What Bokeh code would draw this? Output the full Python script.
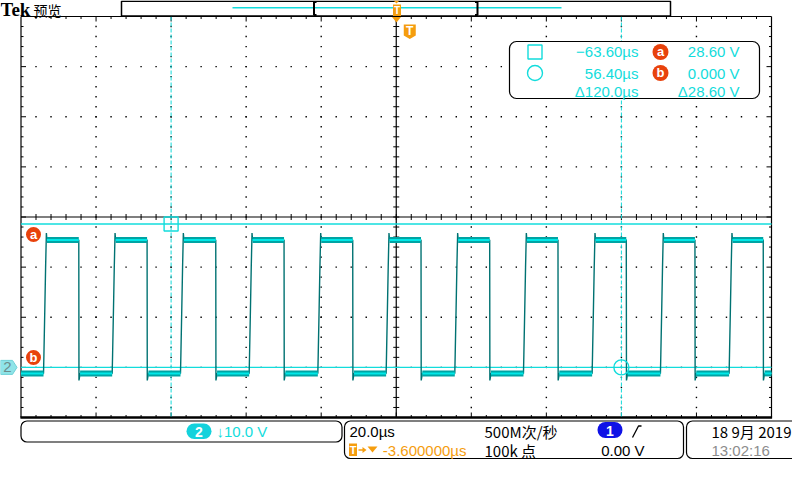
import numpy as np
from bokeh.plotting import figure
from bokeh.models import Range1d
from bokeh.core.properties import value
from bokeh.embed import file_html
from bokeh.resources import INLINE

rise_us = [-97.6, -79.3, -61.1, -42.8, -24.5, -6.3, 12.0, 30.3, 48.6, 66.8, 85.1]
fall_us = [-88.2, -70.0, -51.7, -33.5, -15.2, 3.0, 21.3, 39.5, 57.7, 76.0, 94.2]
high_v = 25.4
low_v = -1.2
overshoot_v = 26.8
undershoot_v = -2.6
rise_shape_frac = [0.0, 0.12, 0.38, 0.62, 0.85, 1.0]   # fraction of rise time
rise_shape_v = [low_v, 2.5, 11.5, 20.0, overshoot_v, high_v]
rise_time_us = 0.9
fall_settle_us = 0.35

cursor_t = [-63.60, 56.40]      # a (square), b (circle)
cursor_v = [28.60, 0.000]       # a, b
us_per_div = 20.0
v_per_div = 10.0
h_delay_us = -3.6
ch2_offset_div = -3
trig_level_v = 0.00
sample_rate_text = "500M次/秒"
record_text = "100k 点"
date_text = "18 9月 2019"
clock_text = "13:02:16"

# ---------------- screen geometry (pixels of the 800x480 screen) ----------------
W, H = 792, 472
GL, GR, GT, GB = 20.5, 771.0, 16.0, 417.0
DX = (GR - GL) / 10.0
DY = (GB - GT) / 8.0
CX = (GL + GR) / 2.0
CY = (GT + GB) / 2.0
GND = CY - ch2_offset_div * DY


def t_of(px):
    return h_delay_us + (px - CX) / DX * us_per_div


def v_of(py):
    return (GND - py) / DY * v_per_div


p = figure(width=W, height=H, x_range=Range1d(0, W), y_range=Range1d(H, 0),
           output_backend="svg", toolbar_location=None,
           x_axis_location=None, y_axis_location=None, min_border=0,
           outline_line_color=None, background_fill_color="white",
           border_fill_color="white")
p.grid.visible = False
p.extra_x_ranges = {"t": Range1d(t_of(0), t_of(W))}
p.extra_y_ranges = {"v": Range1d(v_of(H), v_of(0))}

CYAN = "#12dcdc"
TEAL = "#007272"
BAND = "#00a4a4"
CORE = "#00e8e8"
ORANGE = "#f59d0e"
RED = "#e8420c"
FONT = "Liberation Sans"
CJK = "Noto Sans CJK SC"


def txt(x, y, s, color="black", size=14, font=FONT, align="left", bold=False):
    p.text(x=[x], y=[y], text=[s], text_color=color, text_font=value(font),
           text_font_size=value(f"{size}px"), text_align=align,
           text_baseline="middle", text_font_style="bold" if bold else "normal")


# ---------------- graticule ----------------
dots_x, dots_y = [], []
for k in range(1, 10):
    if k == 5:
        continue
    for j in range(1, 40):
        dots_x.append(GL + k * DX)
        dots_y.append(GT + j * DY / 5)
for k in range(1, 8):
    if k == 4:
        continue
    for j in range(1, 50):
        dots_x.append(GL + j * DX / 5)
        dots_y.append(GT + k * DY)
p.rect(x=dots_x, y=dots_y, width=1.4, height=1.4, width_units="screen",
       height_units="screen", fill_color="black", line_color=None)

sx0, sy0, sx1, sy1 = [], [], [], []
for j in range(1, 50):
    x = GL + j * DX / 5
    L = 5 if j % 5 == 0 else 2.5
    sx0 += [x, x, x]; sx1 += [x, x, x]
    sy0 += [GT, GB, CY - 3]; sy1 += [GT + L, GB - L, CY + 3]
for j in range(1, 40):
    y = GT + j * DY / 5
    L = 5 if j % 5 == 0 else 2.5
    sy0 += [y, y, y]; sy1 += [y, y, y]
    sx0 += [GL, GR, CX - 3]; sx1 += [GL + L, GR - L, CX + 3]
p.segment(x0=sx0, y0=sy0, x1=sx1, y1=sy1, line_color="black", line_width=1)

# centre cross
p.segment(x0=[GL, CX], y0=[CY, GT], x1=[GR, CX], y1=[CY, GB], line_color="black", line_width=1.2)
# border
p.segment(x0=[GL, GL, GR], y0=[GT, GT, GT], x1=[GR, GL, GR], y1=[GT, GB, GB],
          line_color="black", line_width=1.2)
p.segment(x0=[GL - 0.6], y0=[GB], x1=[GR + 0.6], y1=[GB], line_color="black", line_width=2.5)

# ---------------- cursors ----------------
p.segment(x0=cursor_t, x1=cursor_t, y0=[GT] * 2, y1=[GB] * 2, x_range_name="t",
          line_color=CYAN, line_width=1, line_dash="4 2")
p.segment(x0=[GL] * 2, x1=[GR] * 2, y0=cursor_v, y1=cursor_v, y_range_name="v",
          line_color=CYAN, line_width=1.4)

# ---------------- waveform ----------------
t_left, t_right = t_of(GL), t_of(GR)
xs, ys = [t_left], [low_v]
hi_seg, lo_seg = [], []
prev_low_start = t_left
for tr, tf in zip(rise_us, fall_us):
    lo_seg.append((prev_low_start, tr))
    for f, v in zip(rise_shape_frac, rise_shape_v):
        xs.append(tr + f * rise_time_us)
        ys.append(v)
    hi_seg.append((tr + rise_time_us, tf))
    xs += [tf, tf + 0.05, tf + fall_settle_us]
    ys += [high_v, undershoot_v, low_v]
    prev_low_start = tf + fall_settle_us
lo_seg.append((prev_low_start, t_right))
xs.append(t_right); ys.append(low_v)
p.line(xs, ys, x_range_name="t", y_range_name="v", line_color=TEAL, line_width=1.4)

bx0 = [a for a, b in hi_seg] + [a for a, b in lo_seg]
bx1 = [b for a, b in hi_seg] + [b for a, b in lo_seg]
by = [high_v] * len(hi_seg) + [low_v] * len(lo_seg)
p.segment(x0=bx0, x1=bx1, y0=by, y1=by, x_range_name="t", y_range_name="v",
          line_color=BAND, line_width=6)
p.segment(x0=bx0, x1=bx1, y0=by, y1=by, x_range_name="t", y_range_name="v",
          line_color=CORE, line_width=2)

# cursor markers
p.scatter(x=[cursor_t[0]], y=[cursor_v[0]], marker="square", size=14, fill_color=None,
          line_color=CYAN, line_width=1.4, x_range_name="t", y_range_name="v")
p.scatter(x=[cursor_t[1]], y=[cursor_v[1]], marker="circle", size=15, fill_color=None,
          line_color=CYAN, line_width=1.4, x_range_name="t", y_range_name="v")

# ---------------- left side markers ----------------
p.scatter(x=[33, 33], y=[234, 357], marker="circle", size=15, fill_color=RED, line_color=None)
txt(33, 233.5, "a", color="white", size=13, align="center", bold=True)
txt(33, 356.5, "b", color="white", size=13, align="center", bold=True)
p.patch(x=[0, 12, 16.5, 12, 0], y=[GND - 7, GND - 7, GND, GND + 7, GND + 7],
        fill_color="#8fe4e8", line_color="#6fd0d6")
txt(7, GND, "2", color="#6c8c8c", size=15, align="center")

# ---------------- header ----------------
txt(0, 9, "Tek", size=19, font="Liberation Serif", bold=True)
txt(33, 9.5, "预览", size=14, font=CJK)
p.quad(left=[121], right=[670], top=[0.8], bottom=[15.4], fill_color="white",
       line_color="black", line_width=1.5)
p.segment(x0=[232], x1=[561], y0=[7.3], y1=[7.3], line_color=CYAN, line_width=1.5)
# view brackets
p.multi_line(xs=[[316, 313.5, 313.5, 316], [474.5, 477, 477, 474.5]],
             ys=[[1.5, 1.5, 14.5, 14.5], [1.5, 1.5, 14.5, 14.5]],
             line_color="black", line_width=2)
# expansion/trigger marker at top
p.patch(x=[393, 399, 396], y=[0, 0, 3], fill_color=ORANGE, line_color=None)
p.quad(left=[392.5], right=[400.5], top=[4], bottom=[15.5], fill_color=ORANGE, line_color=None)
txt(396.5, 10, "T", color="white", size=10, align="center", bold=True)
p.patch(x=[391.5, 400.5, 396], y=[16.5, 16.5, 22], fill_color=ORANGE, line_color=None)
# trigger position marker
trig_px = CX + (0 - h_delay_us) / us_per_div * DX
p.patch(x=[trig_px - 6, trig_px + 6, trig_px + 6, trig_px, trig_px - 6],
        y=[24, 24, 35, 38.5, 35], fill_color=ORANGE, line_color=None)
txt(trig_px, 30.5, "T", color="white", size=12, align="center", bold=True)

# ---------------- cursor readout ----------------
p.quad(left=[509], right=[759], top=[41], bottom=[98], fill_color="white",
       line_color="black", line_width=1.2, border_radius=7)
p.scatter(x=[534.5], y=[51.5], marker="square", size=14, fill_color=None,
          line_color=CYAN, line_width=1.4)
p.scatter(x=[534.5], y=[72.5], marker="circle", size=15, fill_color=None,
          line_color=CYAN, line_width=1.4)
p.scatter(x=[660, 660], y=[51.5, 72.5], marker="circle", size=16, fill_color=RED, line_color=None)
txt(660, 51, "a", color="white", size=13, align="center", bold=True)
txt(660, 72, "b", color="white", size=13, align="center", bold=True)


def fmt_t(t):
    return f"{t:.2f}µs".replace("-", "−")


txt(638, 51, fmt_t(cursor_t[0]), color=CYAN, size=15, align="right")
txt(638, 72.5, fmt_t(cursor_t[1]), color=CYAN, size=15, align="right")
txt(638, 91, f"Δ{cursor_t[1] - cursor_t[0]:.1f}µs", color=CYAN, size=15, align="right")
txt(739, 51, f"{cursor_v[0]:.2f} V", color=CYAN, size=15, align="right")
txt(739, 72.5, f"{cursor_v[1]:.3f} V", color=CYAN, size=15, align="right")
txt(739, 91, f"Δ{abs(cursor_v[0] - cursor_v[1]):.2f} V", color=CYAN, size=15, align="right")

# ---------------- bottom status bar ----------------
p.quad(left=[20.5, 344, 686], right=[341.5, 683, 806], top=[420.5, 420.5, 420.5],
       bottom=[441.5, 458, 458], fill_color="white", line_color="black",
       line_width=1.2, border_radius=6)
p.quad(left=[186], right=[211], top=[423], bottom=[438.5], fill_color="#14d2dc",
       line_color=None, border_radius=8)
txt(198.5, 431, "2", color="white", size=14, align="center", bold=True)
txt(216, 431, f"↓{v_per_div:.1f} V", color=CYAN, size=15)

txt(349, 431, f"{us_per_div:.1f}µs", size=15)
p.quad(left=[348.5], right=[356.5], top=[443], bottom=[455.5], fill_color=ORANGE, line_color=None)
txt(352.5, 449.5, "T", color="white", size=11, align="center", bold=True)
p.segment(x0=[358], x1=[363], y0=[449.5], y1=[449.5], line_color=ORANGE, line_width=1.5)
p.patch(x=[362, 366, 362], y=[446.5, 449.5, 452.5], fill_color=ORANGE, line_color=None)
p.patch(x=[367, 377, 372], y=[446, 446, 452], fill_color=ORANGE, line_color=None)
txt(466, 450, f"{h_delay_us:.6f}µs", color=ORANGE, size=15, align="right")

txt(484, 430.5, sample_rate_text, size=15, font=CJK)
txt(484, 449.5, record_text, size=15, font=CJK)

p.quad(left=[597], right=[622], top=[421.5], bottom=[437.5], fill_color="#0f12e6",
       line_color=None, border_radius=8)
txt(609.5, 430, "1", color="white", size=14, align="center", bold=True)
p.multi_line(xs=[[632, 638, 641]], ys=[[437, 425.5, 425.5]], line_color="black", line_width=1.3)
txt(644, 450, f"{trig_level_v:.2f} V", size=15, align="right")

txt(711, 430.5, date_text, size=15, font=CJK)
txt(711, 449.5, clock_text, color="#8c8c8c", size=15)

open("out.html", "w").write(file_html(p, INLINE))
